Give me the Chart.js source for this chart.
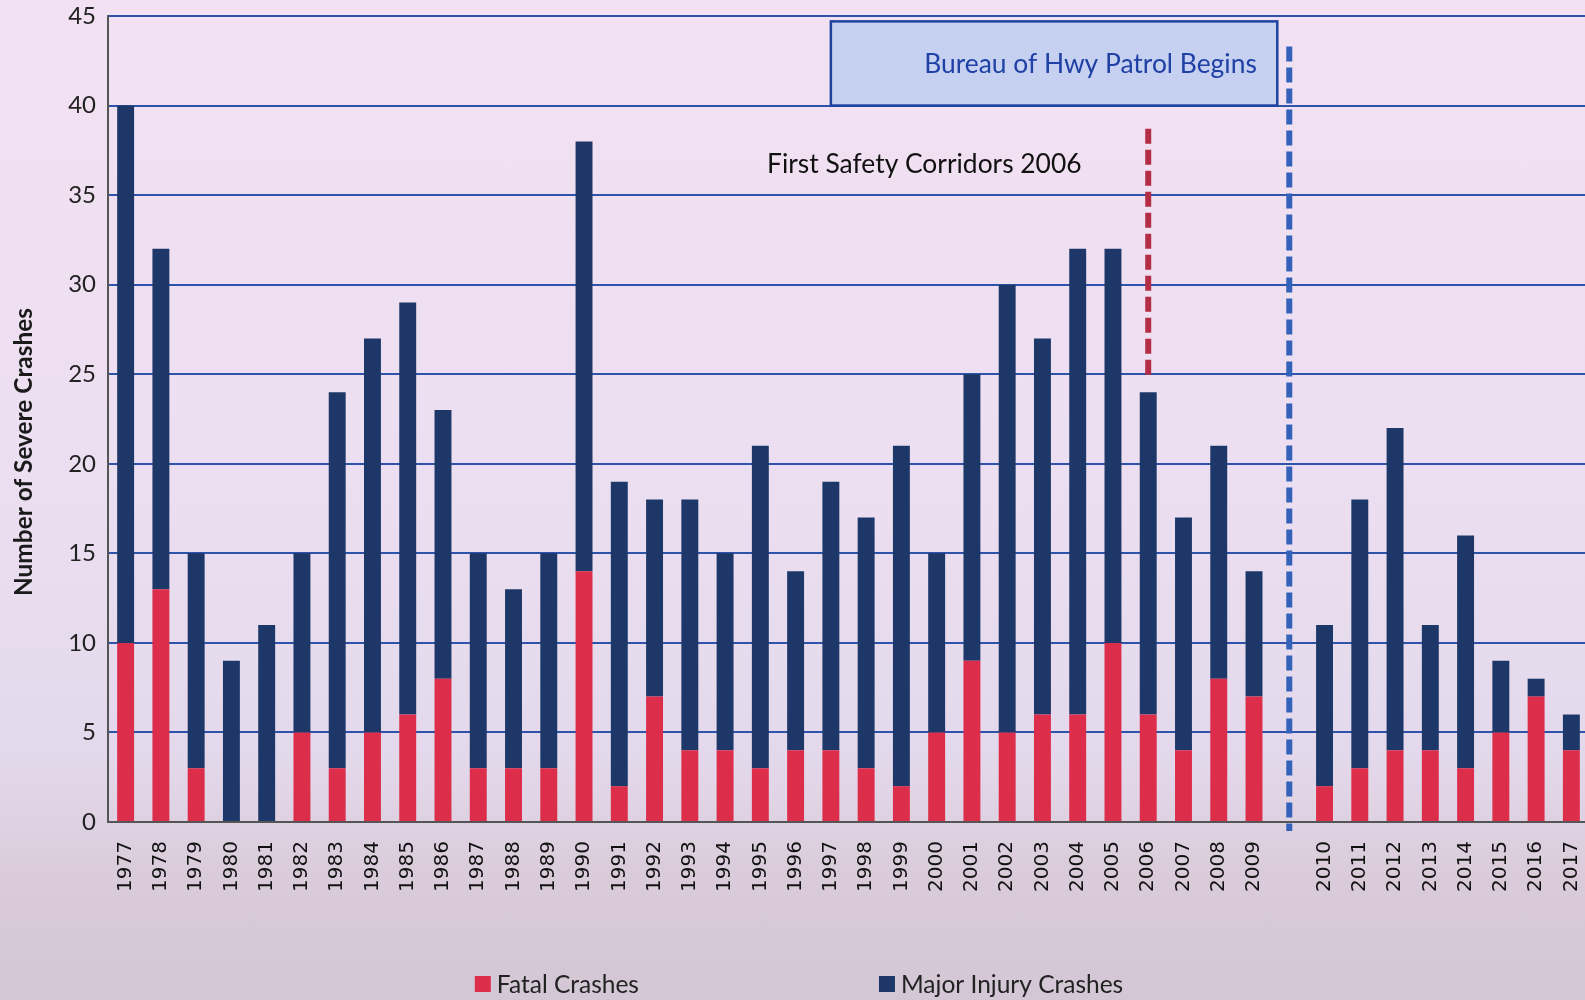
<!DOCTYPE html>
<html lang="en">
<head>
    <meta charset="UTF-8">
    <title>Severe Crashes</title>
    <script src="https://cdn.jsdelivr.net/npm/chart.js"></script>
    <style>
        html, body { margin: 0; padding: 0; overflow: hidden; }
        body {
            width: 1585px; height: 1000px;
            background: linear-gradient(180deg, #f2e1f2 0%, #ecdff1 45%, #e4d9ec 75%, #d9cbd9 88%, #d3c6d5 100%);
        }
        canvas { display: block; }
    </style>
</head>
<body>
    <canvas id="graficaChoques" width="1600" height="1000"></canvas>

    <script>
        // years, with an empty slot between 2009 and 2010
        const years = ['1977','1978','1979','1980','1981','1982','1983','1984','1985','1986',
            '1987','1988','1989','1990','1991','1992','1993','1994','1995','1996',
            '1997','1998','1999','2000','2001','2002','2003','2004','2005','2006',
            '2007','2008','2009','','2010','2011','2012','2013','2014','2015','2016','2017'];

        const fatalCrashes = [10,13,3,0,0,5,3,5,6,8,
            3,3,3,14,2,7,4,4,3,4,
            4,3,2,5,9,5,6,6,10,6,
            4,8,7,null,2,3,4,4,3,5,7,4];

        const majorInjuryCrashes = [30,19,12,9,11,10,21,22,23,15,
            12,10,12,24,17,11,14,11,18,10,
            15,14,19,10,16,25,21,26,22,18,
            13,13,7,null,9,15,18,7,13,4,1,2];

        const yTicks = { min: 0, max: 45, step: 5 };
        const yTitle = 'Number of Severe Crashes';

        // annotation positions in data units (category index, value)
        const patrolBox = { x0: 20, x1: 32.66, y0: 40, y1: 44.7, text: 'Bureau of Hwy Patrol Begins', textX: 32.08, textY: 42.3 };
        const corridorNote = { text: 'First Safety Corridors 2006', x: 22.65, y: 36.7 };
        const corridorLine = { x: 29, y0: 24.8, y1: 38.7 };
        const patrolLine = { x: 33, y0: -0.5, y1: 43.3 };

        const colorFatal = '#dc2d4a';
        const colorMajor = '#1d3868';

        const anotaciones = {
            id: 'anotaciones',
            afterDatasetsDraw(chart) {
                const { ctx, scales: { x, y } } = chart;
                ctx.save();

                // patrol box
                const bx0 = x.getPixelForValue(patrolBox.x0), bx1 = x.getPixelForValue(patrolBox.x1);
                const by0 = y.getPixelForValue(patrolBox.y1), by1 = y.getPixelForValue(patrolBox.y0);
                ctx.fillStyle = '#c6d1f1';
                ctx.fillRect(bx0, by0, bx1 - bx0, by1 - by0);
                ctx.strokeStyle = '#1f42a0';
                ctx.lineWidth = 2.5;
                ctx.strokeRect(bx0, by0, bx1 - bx0, by1 - by0);
                ctx.fillStyle = '#1f40a4';
                ctx.font = '26.4px Lato';
                ctx.textAlign = 'right';
                ctx.textBaseline = 'middle';
                ctx.fillText(patrolBox.text, x.getPixelForValue(patrolBox.textX), y.getPixelForValue(patrolBox.textY));

                // corridors note
                ctx.fillStyle = '#111';
                ctx.textAlign = 'center';
                ctx.fillText(corridorNote.text, x.getPixelForValue(corridorNote.x), y.getPixelForValue(corridorNote.y));

                // dashed lines
                ctx.lineWidth = 6;
                ctx.setLineDash([15, 6]);
                ctx.strokeStyle = '#b32d45';
                ctx.beginPath();
                ctx.moveTo(x.getPixelForValue(corridorLine.x), y.getPixelForValue(corridorLine.y1));
                ctx.lineTo(x.getPixelForValue(corridorLine.x), y.getPixelForValue(corridorLine.y0));
                ctx.stroke();

                ctx.strokeStyle = '#3462bb';
                ctx.beginPath();
                ctx.moveTo(x.getPixelForValue(patrolLine.x), y.getPixelForValue(patrolLine.y1));
                ctx.lineTo(x.getPixelForValue(patrolLine.x), y.getPixelForValue(patrolLine.y0));
                ctx.stroke();
                ctx.restore();
            },
            afterDraw(chart) {
                const { ctx } = chart;
                ctx.save();

                // y axis title, sits a bit below the middle of the axis
                ctx.translate(24, 452);
                ctx.rotate(-Math.PI / 2);
                ctx.font = 'bold 24.4px Lato';
                ctx.fillStyle = '#1a1a1a';
                ctx.textAlign = 'center';
                ctx.textBaseline = 'middle';
                ctx.fillText(yTitle, 0, 0);
                ctx.setTransform(1, 0, 0, 1, 0, 0);

                // bottom legend, wide gap between the two items
                const items = chart.data.datasets.map(d => ({ label: d.label, color: d.backgroundColor }));
                ctx.font = '24.5px Lato';
                ctx.textBaseline = 'middle';
                ctx.textAlign = 'left';
                const box = 16, gapBox = 6, gapItems = 240;
                const widths = items.map(it => box + gapBox + ctx.measureText(it.label).width);
                const total = widths.reduce((a, b) => a + b, 0) + gapItems * (items.length - 1);
                let xPos = 799 - total / 2;
                const yPos = 984;
                items.forEach((it, i) => {
                    ctx.fillStyle = it.color;
                    ctx.fillRect(xPos, yPos - box / 2, box, box);
                    ctx.fillStyle = '#222';
                    ctx.fillText(it.label, xPos + box + gapBox, yPos + 1);
                    xPos += widths[i] + gapItems;
                });
                ctx.restore();
            }
        };

        const ctx = document.getElementById('graficaChoques').getContext('2d');
        const grafica = new Chart(ctx, {
            type: 'bar',
            data: {
                labels: years,
                datasets: [{
                    label: 'Fatal Crashes',
                    data: fatalCrashes,
                    backgroundColor: colorFatal,
                    barPercentage: 0.48,
                    categoryPercentage: 1.0
                }, {
                    label: 'Major Injury Crashes',
                    data: majorInjuryCrashes,
                    backgroundColor: colorMajor,
                    barPercentage: 0.48,
                    categoryPercentage: 1.0
                }]
            },
            options: {
                responsive: false,
                animation: false,
                layout: { padding: { top: 16, right: 11, left: 0, bottom: 0 } },
                plugins: {
                    legend: { display: false },
                    tooltip: { enabled: false }
                },
                scales: {
                    x: {
                        stacked: true,
                        grid: { display: false, drawTicks: false },
                        border: { display: true, color: '#555', width: 2 },
                        ticks: {
                            autoSkip: false,
                            maxRotation: 90,
                            minRotation: 90,
                            padding: 19,
                            color: '#111',
                            font: { family: 'DejaVu Sans', size: 20 }
                        },
                        afterFit(scale) {
                            scale.height = 178;
                            scale.paddingLeft = 0;
                            scale.paddingRight = 0;
                        }
                    },
                    y: {
                        stacked: true,
                        min: yTicks.min,
                        max: yTicks.max,
                        ticks: {
                            stepSize: yTicks.step,
                            padding: 12,
                            color: '#222',
                            font: { family: 'Lato', size: 24 }
                        },
                        grid: { color: '#2d54aa', lineWidth: 2, drawTicks: false },
                        border: { display: true, color: '#555', width: 2 },
                        afterFit(scale) {
                            scale.width = 108;
                            scale.paddingTop = 0;
                            scale.paddingBottom = 0;
                        }
                    }
                }
            },
            plugins: [anotaciones]
        });
    </script>
</body>
</html>
